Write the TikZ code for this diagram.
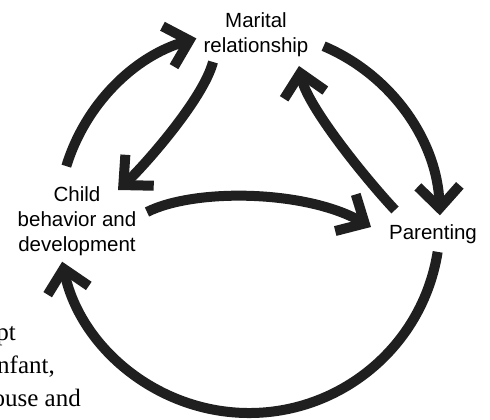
\documentclass[tikz,border=0pt]{standalone}
\usepackage{fontspec}
\setmainfont{Liberation Sans}
\newfontfamily\bodyserif{Liberation Serif}
\usetikzlibrary{arrows.meta}

\begin{document}
\begin{tikzpicture}[
    x=1pt, y=1pt,
    topic/.style={
        inner sep=0pt,
        align=center,
        font=\fontsize{20.5}{25}\selectfont
    },
    bodytext/.style={
        anchor=base east,
        inner sep=0pt,
        font=\bodyserif\fontsize{25}{33}\selectfont
    },
    arr/.style={
        draw=black!88,
        line width=10pt,
        -{Straight Barb[length=22pt,width=42pt]}
    }
]
\clip (0,0) rectangle (490,420);

% the three topics
\node[topic] (marital) at (256,385.5) {Marital\\relationship};
\node[topic] (child) at (77,199) {Child\\behavior and\\development};
\node[topic] (parenting) at (433,186) {Parenting};

% running text at the left edge
\node[bodytext] (line1) at (16,79) {pt};
\node[bodytext] (line2) at (55,46) {nfant,};
\node[bodytext] (line3) at (81,13) {ouse and};

% outer ring, centred on the hub
\coordinate (hub) at (249,198);
\draw[arr] ([shift={(163:191)}]hub) arc[start angle=163, end angle=106, radius=191];
\draw[arr] ([shift={(67:191)}]hub) arc[start angle=67, end angle=2, radius=191];
\draw[arr] ([shift={(-9:191)}]hub) arc[start angle=-9, end angle=-168, radius=191];

% inner links
\draw[arr] ([shift={(-43,-27.5)}]marital.center) .. controls +(-10,-38) and +(24,22) .. ([shift={(41,31)}]child.center);
\draw[arr] ([shift={(70,9)}]child.center) .. controls +(48,24) and +(-66,37) .. ([shift={(-62,7)}]parenting.center);
\draw[arr] ([shift={(-38,24)}]parenting.center) .. controls +(-30,32) and +(8,-40) .. ([shift={(43,-31.5)}]marital.center);

\end{tikzpicture}
\end{document}
